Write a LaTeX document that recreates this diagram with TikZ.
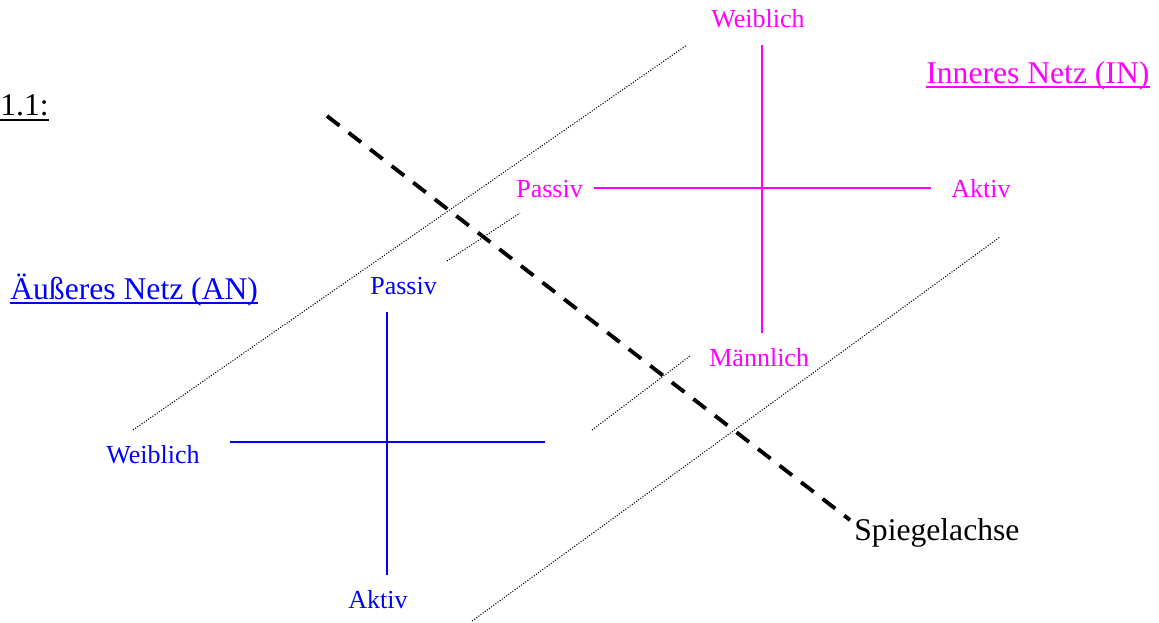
\documentclass[tikz,border=0pt]{standalone}
\usepackage{fontspec}
\setmainfont{Liberation Serif}
\usetikzlibrary{positioning}
\definecolor{inmag}{RGB}{255,0,255}
\definecolor{anblue}{RGB}{0,0,255}

\begin{document}
\begin{tikzpicture}[x=0.02cm,y=-0.02cm,
  lbl/.style={anchor=base west,inner sep=0pt,font=\fontsize{14.8}{17}\selectfont},
  ttl/.style={anchor=base west,inner sep=0pt,font=\fontsize{18}{21}\selectfont},
  uline/.style={line width=1pt},
  axis/.style={line width=1.1pt},
  mirror/.style={line width=2.2pt,dash pattern=on 9pt off 6.5pt},
  guide/.style={line width=0.6pt,dash pattern=on 0.6pt off 0.9pt}
]
\useasboundingbox (0,0) rectangle (1159,622);

\node[ttl] (nr) at (0,115) {1.1:};
\node[ttl,inmag] (innet) at (926,83) {Inneres Netz (IN)};
\node[ttl,anblue] (aunet) at (10,299) {Äußeres Netz (AN)};
\node[ttl] (achse) at (854,540) {Spiegelachse};

\draw[uline] ([yshift=-2.8pt]nr.base west) -- ([yshift=-2.8pt]nr.base east);
\draw[uline,inmag] ([yshift=-2.4pt]innet.base west) -- ([yshift=-2.4pt]innet.base east);
\draw[uline,anblue] ([yshift=-2.4pt]aunet.base west) -- ([yshift=-2.4pt]aunet.base east);

\node[lbl,inmag] (inW) at (711,28)  {Weiblich};
\node[lbl,inmag] (inP) at (516,197) {Passiv};
\node[lbl,inmag] (inA) at (951,197) {Aktiv};
\node[lbl,inmag] (inM) at (709,366) {Männlich};

\node[lbl,anblue] (anP) at (370,294) {Passiv};
\node[lbl,anblue] (anW) at (106,463) {Weiblich};
\node[lbl,anblue] (anA) at (348,608) {Aktiv};

\coordinate (inT) at (762,45);
\coordinate (inB) at (762,333);
\coordinate (inL) at (594,188);
\coordinate (inR) at (931,188);
\coordinate (anT) at (387,312);
\coordinate (anB) at (387,575);
\coordinate (anL) at (230,442);
\coordinate (anR) at (545,442);

\draw[axis,inmag] (inT) -- (inB);
\draw[axis,inmag] (inL) -- (inR);
\draw[axis,anblue] (anT) -- (anB);
\draw[axis,anblue] (anL) -- (anR);

\coordinate (g1a) at (133,430);
\coordinate (g1b) at (687,45);
\coordinate (g2a) at (447,261);
\coordinate (g2b) at (520,213);
\coordinate (g3a) at (592,430);
\coordinate (g3b) at (690,356);
\coordinate (g4a) at (472,621);
\coordinate (g4b) at (1000,237);

\draw[guide] (g1a) -- (g1b);
\draw[guide] (g2a) -- (g2b);
\draw[guide] (g3a) -- (g3b);
\draw[guide] (g4a) -- (g4b);

\coordinate (msA) at (327,116);
\coordinate (msB) at (850,520);
\draw[mirror] (msA) -- (msB);
\end{tikzpicture}
\end{document}
